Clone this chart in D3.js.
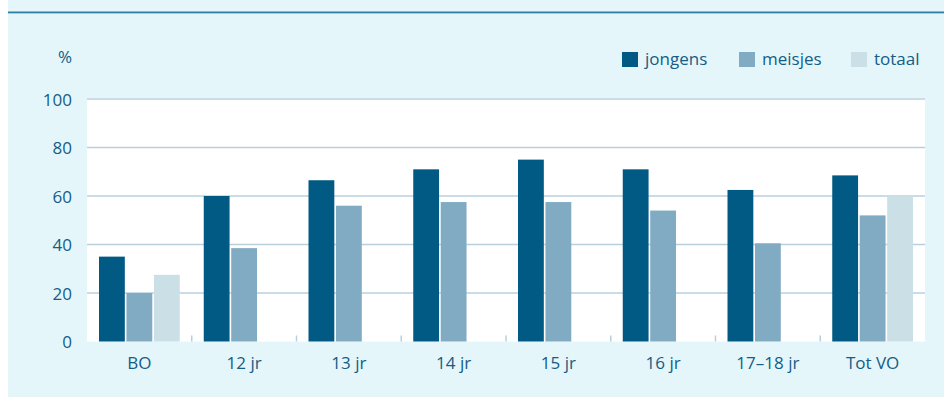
<!DOCTYPE html>
<html>
<head>
<meta charset="utf-8">
<script src="https://cdn.jsdelivr.net/npm/d3@7"></script>
<style>
  html, body { margin: 0; padding: 0; background: #ffffff; }
  svg { display: block; }
  text { font-family: "Open Sans", "DejaVu Sans", sans-serif; fill: #135d86; }
</style>
</head>
<body>
<svg id="chart" width="944" height="397"></svg>
<script>
// Age groups along the x axis
const categories = ["BO", "12 jr", "13 jr", "14 jr", "15 jr", "16 jr", "17\u201318 jr", "Tot VO"];
// Percentages per group (null = not reported)
const jongens = [35, 60, 66.5, 71, 75, 71, 62.5, 68.5];
const meisjes = [20, 38.5, 56, 57.5, 57.5, 54, 40.5, 52];
const totaal  = [27.5, null, null, null, null, null, null, 60];
const seriesNames = ["jongens", "meisjes", "totaal"];
const seriesColors = ["#005a84", "#80abc2", "#cbdfe6"];
const yTicks = [0, 20, 40, 60, 80, 100];

const seriesValues = [jongens, meisjes, totaal];

const svg = d3.select("#chart");

// Panel background and top rule
svg.append("rect").attr("x", 8).attr("y", 0).attr("width", 936).attr("height", 397).attr("fill", "#e4f6fa");
svg.append("rect").attr("x", 8).attr("y", 11.5).attr("width", 936).attr("height", 1.5).attr("fill", "#2f7fa7");
svg.append("rect").attr("x", 8).attr("y", 13).attr("width", 936).attr("height", 1).attr("fill", "#9fcfe0");

const plot = { left: 87, right: 925, top: 99, bottom: 341.5 };

// Plot area
svg.append("rect")
  .attr("x", plot.left).attr("y", plot.top - 1)
  .attr("width", plot.right - plot.left).attr("height", plot.bottom - plot.top + 1)
  .attr("fill", "#ffffff");

const x = d3.scaleBand().domain(categories).range([plot.left, plot.right]).paddingInner(0).paddingOuter(0);
const y = d3.scaleLinear().domain([0, 100]).range([plot.bottom, plot.top]);
const inner = d3.scaleBand().domain(seriesNames).range([12, x.bandwidth() - 12]).paddingInner(0.06);

// Horizontal gridlines
svg.append("g").selectAll("line")
  .data(yTicks.filter(d => d > 0))
  .join("line")
  .attr("x1", plot.left).attr("x2", plot.right)
  .attr("y1", d => y(d)).attr("y2", d => y(d))
  .attr("stroke", "#b9d0dc").attr("stroke-width", 1.5);

// Y axis labels
const yAxis = d3.axisLeft(y).tickValues(yTicks).tickSize(0).tickPadding(0);
const yg = svg.append("g").attr("transform", `translate(${plot.left - 15},0)`).call(yAxis);
yg.select(".domain").remove();
yg.selectAll("text").attr("font-size", 17).attr("fill", "#135d86")
  .style("font-family", "'Open Sans', sans-serif").attr("dy", "0.36em");

svg.append("text").attr("x", 72).attr("y", 63).attr("text-anchor", "end").attr("font-size", 17).text("%");

// Bars
const groups = svg.append("g").selectAll("g")
  .data(categories)
  .join("g")
  .attr("transform", d => `translate(${x(d)},0)`);

groups.selectAll("rect")
  .data((c, i) => seriesNames.map((s, k) => ({ s, k, v: seriesValues[k][i] })).filter(d => d.v != null))
  .join("rect")
  .attr("x", d => inner(d.s))
  .attr("width", inner.bandwidth())
  .attr("y", d => y(d.v))
  .attr("height", d => y(0) - y(d.v))
  .attr("fill", d => seriesColors[d.k]);

// Small separators between categories
svg.append("g").selectAll("line")
  .data(categories.slice(1))
  .join("line")
  .attr("x1", d => x(d)).attr("x2", d => x(d))
  .attr("y1", plot.bottom - 6).attr("y2", plot.bottom)
  .attr("stroke", "#b9d0dc").attr("stroke-width", 1.5);

// X axis labels
const xAxis = d3.axisBottom(x).tickSize(0).tickPadding(0);
const xg = svg.append("g").attr("transform", `translate(0,${plot.bottom + 15})`).call(xAxis);
xg.select(".domain").remove();
xg.selectAll("text").attr("font-size", 17).attr("fill", "#135d86")
  .style("font-family", "'Open Sans', sans-serif").attr("dy", "0.71em");

// Legend
const legendX = [622, 739, 851];
const legend = svg.append("g").selectAll("g")
  .data(seriesNames)
  .join("g")
  .attr("transform", (d, i) => `translate(${legendX[i]},52)`);
legend.append("rect").attr("width", 16).attr("height", 15).attr("fill", (d, i) => seriesColors[i]);
legend.append("text").attr("x", 23).attr("y", 13).attr("font-size", 17).text(d => d);
</script>
</body>
</html>
